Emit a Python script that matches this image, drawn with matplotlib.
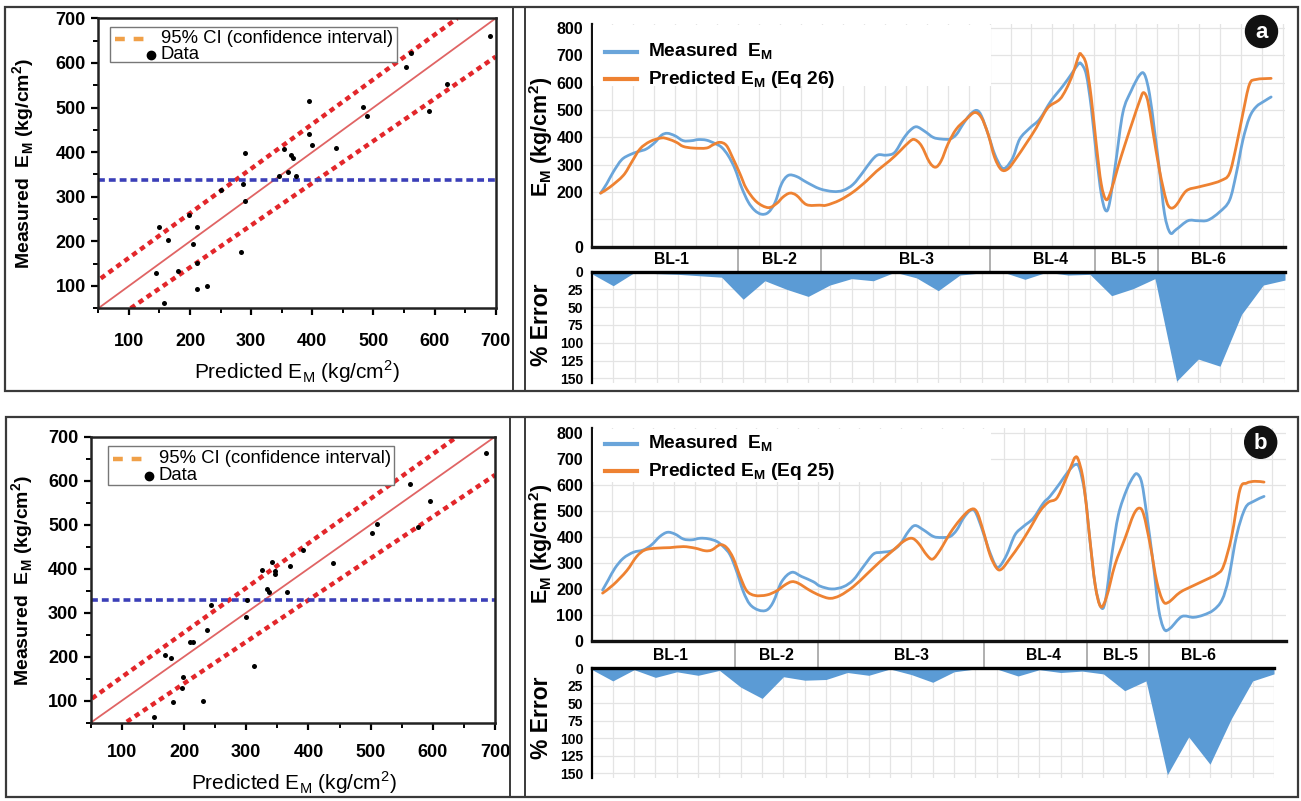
import matplotlib
matplotlib.use("Agg")
import numpy as np
import matplotlib.pyplot as plt
from matplotlib.patches import Rectangle, Circle, PathPatch
from matplotlib.lines import Line2D
from matplotlib.path import Path
from matplotlib.transforms import Affine2D

plt.rcParams['font.family'] = ['Liberation Sans', 'DejaVu Sans']
plt.rcParams['mathtext.fontset'] = 'custom'
plt.rcParams['mathtext.rm'] = 'Liberation Sans'
plt.rcParams['mathtext.bf'] = 'Liberation Sans:bold'

# ---------------- scatter data: predicted vs measured E_M (kg/cm2) ----------------
sc26_pred = [144, 150, 157, 164, 180, 199, 205, 211, 211, 211, 228, 251, 283, 286, 290, 290, 345,
             354, 361, 365, 368, 373, 394, 394, 399, 439, 483, 490, 554, 561, 591, 620, 690]
sc26_meas = [130, 233, 61, 203, 134, 259, 195, 233, 151, 94, 99, 315, 177, 329, 290, 398, 346,
             406, 355, 393, 388, 346, 514, 441, 415, 410, 502, 480, 591, 623, 492, 553, 661]
sc26_mean = 338
sc26_ci_upper = ([54, 637], [117, 700])
sc26_ci_lower = ([103, 700], [50, 614])

sc25_pred = [151, 170, 179, 182, 196, 198, 209, 214, 231, 237, 244, 300, 301, 312, 325, 334, 337,
             341, 347, 347, 366, 370, 392, 440, 502, 511, 563, 576, 596, 686]
sc25_meas = [62, 203, 196, 96, 130, 153, 234, 234, 100, 261, 317, 291, 330, 178, 398, 354, 347,
             416, 394, 389, 347, 407, 442, 412, 481, 502, 593, 494, 554, 662]
sc25_mean = 330
sc25_ci_upper = ([52, 639], [105, 700])
sc25_ci_lower = ([108, 700], [52, 613])

fit_line = ([40, 700], [40, 700])

# ---------------- borehole profiles (position along the logged sections) ----------------
bl_names = ['BL-1', 'BL-2', 'BL-3', 'BL-4', 'BL-5', 'BL-6']
bl_edges = [6.75, 10.6, 18.4, 23.25, 26.15]
bl_label_pos = [3.71, 8.67, 15.0, 21.2, 24.8, 28.45]

# Eq 26
p26_meas_pos = [0.42, 0.70, 1.0, 1.39, 1.78, 2.16, 2.54, 2.93, 3.23, 3.5, 3.85, 4.23, 4.62, 4.92, 5.3,
                5.69, 6.0, 6.31, 6.62, 6.92, 7.23, 7.53, 7.84, 8.15, 8.46, 8.77, 9.08, 9.46, 9.92,
                10.53, 11.15, 11.61, 12.07, 12.53, 12.92, 13.22, 13.61, 13.99, 14.38, 14.68, 14.99,
                15.38, 15.77, 16.14, 16.53, 16.83, 17.14, 17.45, 17.76, 17.99, 18.3, 18.6, 18.91,
                19.14, 19.45, 19.76, 20.22, 20.68, 21.2, 21.75, 22.13, 22.45, 22.6, 22.83, 23.06,
                23.29, 23.52, 23.72, 23.9, 24.18, 24.52, 24.9, 25.29, 25.52, 25.75, 25.98, 26.21,
                26.44, 26.7, 26.98, 27.52, 27.98, 28.44, 28.98, 29.44, 29.75, 30.05, 30.36, 30.67,
                31.05, 31.36]
p26_meas = [196, 230, 273, 318, 337, 348, 358, 382, 408, 415, 406, 388, 388, 392, 390, 378, 364, 333,
            285, 218, 164, 133, 119, 125, 160, 230, 261, 257, 236, 212, 202, 206, 228, 273, 315, 336,
            335, 345, 394, 424, 439, 422, 400, 394, 394, 410, 448, 482, 499, 479, 412, 339, 291, 291,
            327, 394, 434, 467, 533, 588, 630, 667, 669, 630, 509, 339, 194, 133, 158, 303, 491, 570,
            628, 630, 558, 424, 279, 121, 51, 63, 95, 95, 97, 127, 170, 267, 388, 473, 512, 533, 548]
p26_pred_pos = [0.42, 0.85, 1.47, 1.85, 2.24, 2.70, 3.23, 3.54, 3.92, 4.23, 4.69, 5.30, 5.61, 5.92,
                6.23, 6.54, 6.85, 7.15, 7.62, 8.15, 8.54, 8.84, 9.15, 9.46, 9.92, 10.53, 10.84, 11.45,
                12.07, 12.68, 13.15, 13.76, 14.22, 14.68, 14.91, 15.22, 15.6, 15.88, 16.14, 16.45,
                16.83, 17.3, 17.68, 17.99, 18.3, 18.6, 18.91, 19.22, 19.6, 20.06, 20.53, 20.9, 21.14,
                21.6, 21.9, 22.2, 22.49, 22.6, 22.83, 23.06, 23.29, 23.52, 23.75, 23.98, 24.29, 24.6,
                24.98, 25.29, 25.47, 25.67, 25.9, 26.21, 26.52, 26.72, 26.98, 27.44, 27.98, 28.5,
                29.04, 29.43, 29.74, 30.05, 30.36, 30.67, 31.36]
p26_pred = [196, 218, 261, 309, 358, 385, 398, 394, 382, 367, 361, 361, 373, 382, 370, 321, 267, 212,
            164, 143, 158, 182, 196, 188, 154, 152, 152, 170, 200, 240, 276, 315, 349, 385, 392, 370,
            309, 291, 315, 376, 430, 467, 491, 473, 412, 327, 282, 285, 324, 378, 436, 490, 515, 539,
            576, 630, 700, 703, 667, 545, 376, 230, 172, 206, 291, 370, 461, 533, 564, 533, 424, 279,
            170, 142, 152, 204, 218, 228, 242, 267, 364, 485, 594, 612, 616]
p26_error = [3, 20, 1, 3, 4, 6, 8, 39, 13, 25, 35, 19, 10, 13, 1, 9, 27, 5, 2, 1, 11, 1, 5, 4, 34,
             24, 10, 154, 123, 133, 60, 19, 12]

# Eq 25
p25_meas_pos = [0.52, 0.79, 1.1, 1.49, 1.96, 2.43, 2.82, 3.21, 3.56, 3.92, 4.31, 4.7, 5.09, 5.48,
                5.87, 6.18, 6.5, 6.81, 7.12, 7.43, 7.83, 8.22, 8.53, 8.92, 9.39, 9.85, 10.4, 10.72,
                11.27, 11.82, 12.28, 12.75, 13.22, 13.61, 14.08, 14.47, 14.86, 15.17, 15.57, 16.03,
                16.42, 16.82, 17.13, 17.44, 17.75, 17.99, 18.3, 18.61, 18.93, 19.13, 19.47, 19.86,
                20.25, 20.72, 21.19, 21.5, 21.97, 22.36, 22.68, 22.88, 23.15, 23.38, 23.62, 23.88,
                24.09, 24.4, 24.71, 25.1, 25.42, 25.6, 25.81, 26.04, 26.35, 26.59, 26.85, 27.14,
                27.68, 28.23, 28.7, 29.17, 29.57, 29.88, 30.26, 30.66, 31.05, 31.54]
p25_meas = [196, 235, 280, 318, 341, 350, 370, 402, 418, 411, 392, 389, 395, 393, 383, 363, 331, 267,
            190, 141, 119, 119, 151, 228, 264, 248, 228, 211, 200, 209, 235, 286, 334, 341, 347, 372,
            421, 444, 427, 402, 398, 402, 427, 472, 501, 498, 434, 357, 293, 286, 331, 408, 440, 472,
            530, 556, 607, 652, 678, 665, 562, 383, 216, 132, 151, 331, 485, 582, 633, 642, 607, 485,
            293, 126, 46, 49, 94, 91, 100, 119, 158, 241, 408, 511, 537, 556]
p25_pred_pos = [0.52, 1.02, 1.65, 2.12, 2.51, 3.06, 3.68, 4.31, 4.86, 5.33, 5.64, 6.03, 6.34, 6.65,
                6.97, 7.28, 7.67, 8.22, 8.69, 9.08, 9.39, 9.7, 10.25, 10.72, 11.19, 11.66, 12.28,
                12.91, 13.53, 14.08, 14.63, 15.02, 15.33, 15.72, 16.0, 16.35, 16.82, 17.28, 17.75,
                18.06, 18.38, 18.69, 19.0, 19.24, 19.63, 20.1, 20.57, 21.04, 21.43, 21.82, 22.2,
                22.52, 22.68, 22.83, 23.07, 23.35, 23.62, 23.88, 24.16, 24.55, 25.02, 25.42, 25.69,
                25.9, 26.2, 26.51, 26.8, 27.06, 27.6, 28.23, 28.85, 29.32, 29.63, 30.02, 30.41,
                30.72, 31.11, 31.54]
p25_pred = [184, 216, 270, 325, 350, 357, 359, 363, 357, 347, 350, 370, 359, 318, 248, 193, 175, 177,
            193, 216, 228, 222, 194, 175, 164, 175, 209, 257, 305, 344, 383, 395, 376, 331, 315, 350,
            415, 466, 504, 498, 421, 331, 280, 277, 318, 372, 434, 500, 534, 549, 614, 678, 706, 697,
            614, 408, 216, 132, 171, 293, 395, 485, 511, 485, 370, 228, 154, 149, 187, 213, 237, 257,
            286, 402, 582, 607, 614, 611]
p25_error = [1.5, 18, 2, 13, 5, 10, 3, 27, 43, 12, 17, 16, 6, 10, 1, 9, 20, 5, 1, 1, 11, 2, 6, 4, 8,
             32, 18, 152, 98, 137, 72, 18, 8]

# ---------------- figure & helpers (pixel layout, y measured downward) ----------------
W, H = 1301, 801
fig = plt.figure(figsize=(W / 100, H / 100), dpi=100)
PX = Affine2D().scale(1.0 / W, -1.0 / H).translate(0, 1) + fig.transFigure

BLUE = '#6aa5da'
ORANGE = '#ee8232'
AREA = '#5b9bd5'
GRID = '#e4e4e4'


def px_axes(x0, y0, x1, y1):
    return fig.add_axes([x0 / W, 1 - y1 / H, (x1 - x0) / W, (y1 - y0) / H])


def px_line(xs, ys, **kw):
    fig.add_artist(Line2D(xs, ys, transform=PX, **kw))


def px_text(x, y, s, **kw):
    fig.text(x, y, s, transform=PX, **kw)


def smooth_curve(xs, ys):
    """Catmull-Rom style cubic Bezier path running through every given point."""
    p = np.column_stack([xs, ys]).astype(float)
    n = len(p)
    verts = [p[0]]
    codes = [Path.MOVETO]
    for i in range(n - 1):
        p0 = p[i - 1] if i > 0 else p[i]
        p1, p2 = p[i], p[i + 1]
        p3 = p[i + 2] if i + 2 < n else p[i + 1]
        verts += [p1 + (p2 - p0) / 6.0, p2 - (p3 - p1) / 6.0, p2]
        codes += [Path.CURVE4] * 3
    return Path(verts, codes)


# panel frames
for (x0, y0, x1, y1) in [(5, 7, 1298, 391), (6, 417, 1298, 797)]:
    fig.add_artist(Rectangle((x0, y0), x1 - x0, y1 - y0, transform=PX, fill=False,
                             ec='#3a3a3a', lw=1.6))
px_line([513, 513], [7, 391], color='#3a3a3a', lw=1.4)
px_line([525, 525], [7, 391], color='#3a3a3a', lw=1.4)
px_line([510, 510], [417, 797], color='#3a3a3a', lw=1.4)
px_line([525, 525], [417, 797], color='#3a3a3a', lw=1.4)

EM = r'E$_\mathregular{M}$'
UNIT = r'(kg/cm$^\mathregular{2}$)'


def draw_scatter(box, xlo, pred, meas, mean_val, ci_up, ci_lo, leg_box, leg_y, xlab_xy, ylab_xy,
                 xpad):
    ax = px_axes(*box)
    ax.set_xlim(xlo, 700)
    ax.set_ylim(50, 700)
    ax.plot(*fit_line, color='#e06464', lw=1.3, zorder=2)
    for ci in (ci_up, ci_lo):
        ax.plot(*ci, color='#e3262a', lw=3.2, ls=(0, (1.2, 1.0)), zorder=2)
    ax.axhline(mean_val, color='#3b3fb8', lw=2.6, ls=(0, (1.9, 1.1)), zorder=2)
    ax.plot(pred, meas, 'o', color='black', ms=3.6, mec='none', zorder=3)
    ax.set_xticks(range(100, 701, 100))
    ax.set_yticks(range(100, 701, 100))
    ax.set_xticks(range(50, 701, 50), minor=True)
    ax.set_yticks(range(50, 701, 50), minor=True)
    ax.tick_params(which='major', direction='out', length=5, width=1.6, labelsize=13, pad=4)
    ax.tick_params(axis='x', which='major', pad=xpad)
    ax.tick_params(which='minor', direction='out', length=3.5, width=1.4)
    for lab in ax.get_xticklabels() + ax.get_yticklabels():
        lab.set_fontweight('bold')
    for sp in ax.spines.values():
        sp.set_linewidth(1.8)
        sp.set_color('#222222')
    # legend
    x0, y0, x1, y1 = leg_box
    fig.add_artist(Rectangle((x0, y0), x1 - x0, y1 - y0, transform=PX, fc='white',
                             ec='#777777', lw=1.0, zorder=5))
    px_line([x0 + 5, x0 + 42], [leg_y[0]] * 2, color='#f0a048', lw=3.2,
            ls=(0, (2.2, 2.0)), zorder=6)
    px_line([x0 + 41], [leg_y[1]], marker='o', ms=6, color='black', zorder=6)
    px_text(x0 + 51, leg_y[0], '95% CI (confidence interval)', fontsize=13.3, va='center',
            zorder=7)
    px_text(x0 + 51, leg_y[1], 'Data', fontsize=13.3, va='center', zorder=7)
    px_text(*xlab_xy, 'Predicted ' + EM + ' ' + UNIT, fontsize=15, ha='center', va='center')
    px_text(*ylab_xy, 'Measured  ' + EM + ' ' + UNIT, fontsize=14, fontweight='bold',
            ha='center', va='center', rotation=90)


draw_scatter((98.3, 18.3, 495.7, 308.3), 50, sc26_pred, sc26_meas, sc26_mean,
             sc26_ci_upper, sc26_ci_lower, (110, 27, 397, 62), (38.5, 54.5), (297, 371.5),
             (24, 163), 13)
draw_scatter((90.7, 436.7, 495, 722.7), 52, sc25_pred, sc25_meas, sc25_mean,
             sc25_ci_upper, sc25_ci_lower, (108, 446, 394, 485), (458.5, 476), (294, 783),
             (23, 580), 10)


CELL = 0.9668  # width of one category column of the profile grid


def draw_profile(x0, x1_main, x1_err, y_top, y_axis, y_err_top, y_err_bot, xmax_main,
                 ymax_main, ymax_err, meas_pos, meas, pred_pos, pred, err, eq, tag,
                 ytick_labels, legend_rows, leg_box, tag_xy, ylab_y, elab_y):
    # measured / predicted curves
    ax = px_axes(x0, y_top, x1_main, y_axis)
    ax.set_xlim(0, xmax_main)
    ax.set_ylim(0, ymax_main)
    ax.set_yticks(range(0, 801, 100))
    ax.set_yticklabels(ytick_labels)
    ax.set_xticks([])
    ax.grid(axis='y', color=GRID, lw=0.9)
    k = 1
    while k * CELL < xmax_main:
        ax.axvline(k * CELL, color=GRID, lw=0.9, zorder=0)
        k += 1
    ax.set_axisbelow(True)
    for s in ('top', 'right'):
        ax.spines[s].set_visible(False)
    ax.spines['left'].set_linewidth(1.6)
    ax.spines['bottom'].set_linewidth(2.4)
    ax.spines['left'].set_color('#111111')
    ax.spines['bottom'].set_color('#111111')
    ax.tick_params(length=0, pad=6, labelsize=11.5)
    for lab in ax.get_yticklabels():
        lab.set_fontweight('bold')
    ax.add_patch(PathPatch(smooth_curve(meas_pos, meas), fill=False, ec=BLUE, lw=2.0,
                           joinstyle='round', capstyle='round', zorder=3))
    ax.add_patch(PathPatch(smooth_curve(pred_pos, pred), fill=False, ec=ORANGE, lw=2.0,
                           joinstyle='round', capstyle='round', zorder=4))

    # legend block
    lx0, ly0, lx1, ly1 = leg_box
    fig.add_artist(Rectangle((lx0, ly0), lx1 - lx0, ly1 - ly0, transform=PX, fc='white',
                             ec='none', zorder=2.5))
    ax.set_zorder(1)
    for (ly, col, txt) in zip(legend_rows, (BLUE, ORANGE),
                              ('Measured  ' + EM, 'Predicted ' + EM + ' (Eq ' + eq + ')')):
        px_line([605, 637], [ly, ly], color=col, lw=3.0, zorder=6)
        px_text(648, ly, txt, fontsize=13.8, fontweight='bold', va='center', zorder=6)

    # panel tag
    fig.add_artist(Circle(tag_xy, 16, transform=PX, color='#111111', zorder=6))
    px_text(tag_xy[0], tag_xy[1] + 1, tag, color='white', fontsize=16, fontweight='bold',
            ha='center', va='center', zorder=7)

    # borehole band
    band = px_axes(x0, y_axis, x1_main, y_err_top)
    band.set_xlim(0, xmax_main)
    band.set_ylim(0, 1)
    band.axis('off')
    for e in bl_edges:
        band.axvline(e, color='#9a9a9a', lw=1.1)
    for name, pos in zip(bl_names, bl_label_pos):
        band.text(pos, 0.47, name, ha='center', va='center', fontsize=11.3, fontweight='bold')

    # percentage error
    ae = px_axes(x0, y_err_top, x1_err, y_err_bot)
    ae.set_xlim(0, 32)
    ae.set_ylim(ymax_err, 0)
    ae.fill_between(range(len(err)), 0, err, color=AREA, lw=0, zorder=2)
    ae.set_yticks(range(0, 151, 25))
    ae.set_xticks([])
    ae.grid(axis='y', color=GRID, lw=0.9)
    for kk in range(1, 33):
        ae.axvline(kk, color=GRID, lw=0.9, zorder=0)
    ae.set_axisbelow(True)
    for s in ('bottom', 'right'):
        ae.spines[s].set_visible(False)
    ae.spines['top'].set_linewidth(2.4)
    ae.spines['left'].set_linewidth(1.6)
    ae.spines['top'].set_zorder(3)
    ae.tick_params(length=0, pad=6, labelsize=10)
    for lab in ae.get_yticklabels():
        lab.set_fontweight('bold')

    px_text(541, ylab_y, EM + ' ' + UNIT, fontsize=15.5, fontweight='bold', rotation=90,
            ha='center', va='center')
    px_text(541, elab_y, '% Error', fontsize=16.5, fontweight='bold', rotation=90,
            ha='center', va='center')


labels_a = ['0', '', '200', '300', '400', '500', '600', '700', '800']
labels_b = ['0', '100', '200', '300', '400', '500', '600', '700', '800']

draw_profile(591.5, 1285, 1285, 24, 246.7, 271.5, 383, 32, 815, 156.6,
             p26_meas_pos, p26_meas, p26_pred_pos, p26_pred, p26_error, '26', 'a',
             labels_a, (51.7, 79.3), (592.5, 25, 991, 86), (1261.5, 31.5), 137, 325)
draw_profile(591.5, 1286, 1274, 428, 641, 668.3, 778, 32.57, 819, 156.7,
             p25_meas_pos, p25_meas, p25_pred_pos, p25_pred, p25_error, '25', 'b',
             labels_b, (444.3, 471), (592.5, 429, 991, 482), (1260.7, 442.3), 544, 718)

fig.savefig('out.png', dpi=100)
